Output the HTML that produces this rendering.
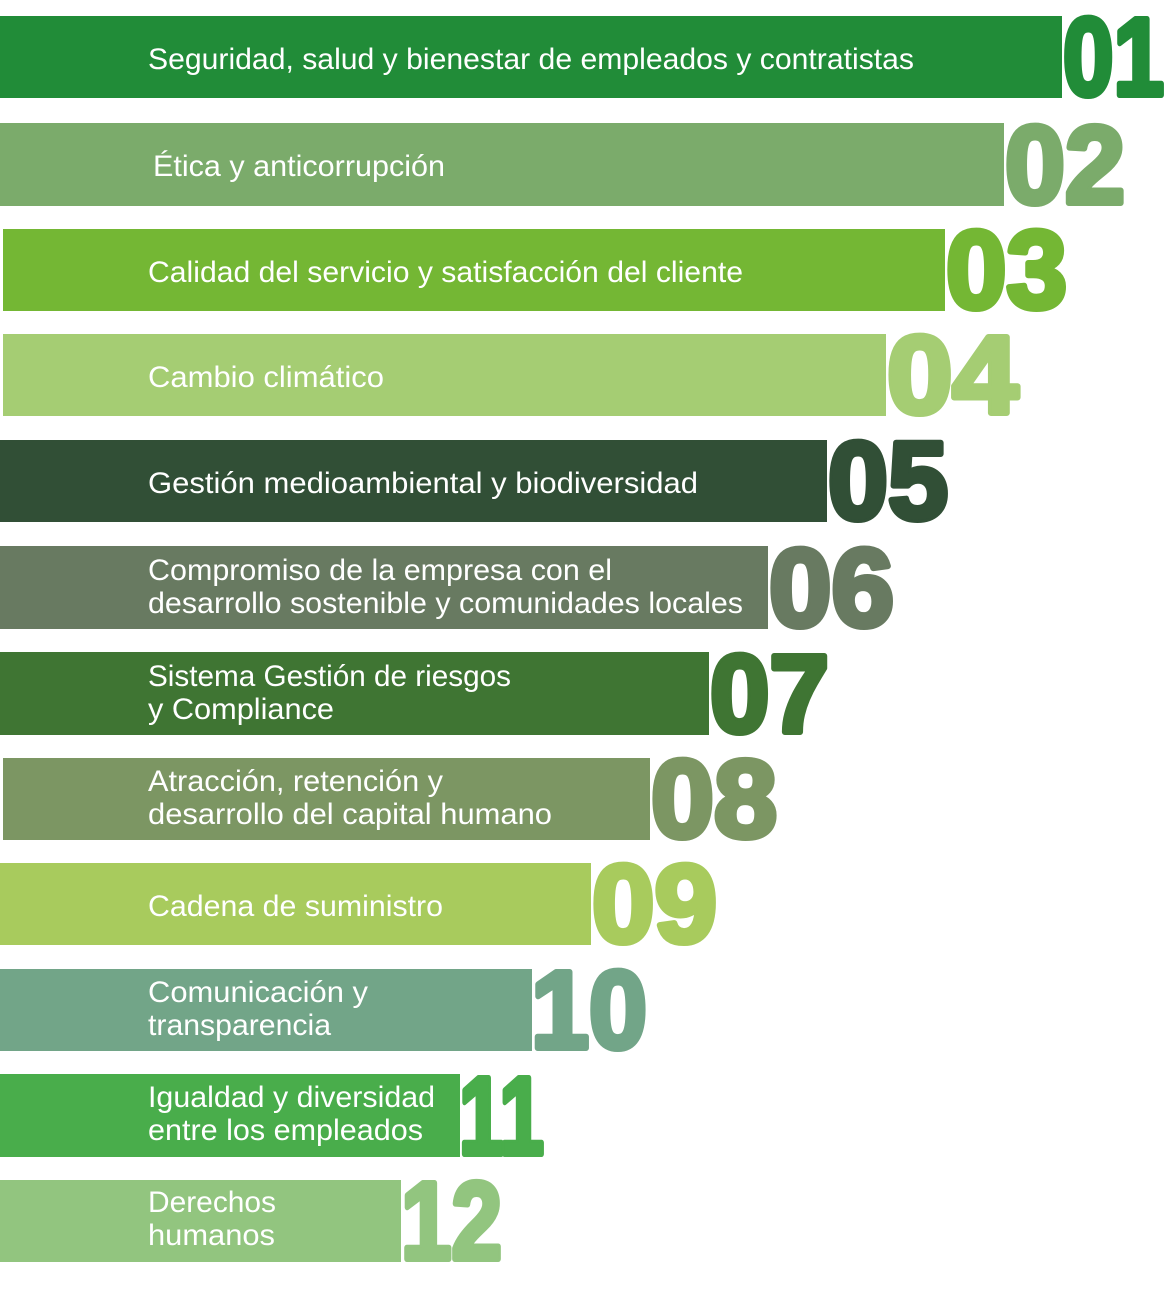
<!DOCTYPE html>
<html><head><meta charset="utf-8"><style>html,body{margin:0;padding:0;background:#fff;width:1172px;height:1297px;overflow:hidden}</style></head>
<body>
<svg width="1172" height="1297" xmlns="http://www.w3.org/2000/svg" font-family="Liberation Sans, sans-serif">
<style>.n{font-size:110px;font-weight:bold;stroke-width:6;stroke-linejoin:round;paint-order:stroke}</style>
<g fill="#fff" font-size="30" font-weight="300">
<rect x="0" y="16" width="1062" height="82" fill="#218c38"/>
<text class="n" x="1063" y="95" fill="#218c38" stroke="#218c38" textLength="101" lengthAdjust="spacingAndGlyphs">01</text>
<text x="148" y="69" textLength="766" lengthAdjust="spacingAndGlyphs">Seguridad, salud y bienestar de empleados y contratistas</text>

<rect x="0" y="123" width="1004" height="83" fill="#7bab6b"/>
<text class="n" x="1005" y="203" fill="#7bab6b" stroke="#7bab6b" textLength="120" lengthAdjust="spacingAndGlyphs">02</text>
<text x="153" y="176" textLength="292" lengthAdjust="spacingAndGlyphs">Ética y anticorrupción</text>

<rect x="3" y="229" width="942" height="82" fill="#74b734"/>
<text class="n" x="946" y="308" fill="#74b734" stroke="#74b734" textLength="121" lengthAdjust="spacingAndGlyphs">03</text>
<text x="148" y="282" textLength="595" lengthAdjust="spacingAndGlyphs">Calidad del servicio y satisfacción del cliente</text>

<rect x="3" y="334" width="883" height="82" fill="#a5cd73"/>
<text class="n" x="887" y="413" fill="#a5cd73" stroke="#a5cd73" textLength="131" lengthAdjust="spacingAndGlyphs">04</text>
<text x="148" y="387" textLength="236" lengthAdjust="spacingAndGlyphs">Cambio climático</text>

<rect x="0" y="440" width="827" height="82" fill="#314f36"/>
<text class="n" x="828" y="519" fill="#314f36" stroke="#314f36" textLength="120" lengthAdjust="spacingAndGlyphs">05</text>
<text x="148" y="493" textLength="550" lengthAdjust="spacingAndGlyphs">Gestión medioambiental y biodiversidad</text>

<rect x="0" y="546" width="768" height="83" fill="#687a61"/>
<text class="n" x="769" y="626" fill="#687a61" stroke="#687a61" textLength="125" lengthAdjust="spacingAndGlyphs">06</text>
<text x="148" y="580" textLength="464" lengthAdjust="spacingAndGlyphs">Compromiso de la empresa con el</text>
<text x="148" y="613" textLength="595" lengthAdjust="spacingAndGlyphs">desarrollo sostenible y comunidades locales</text>

<rect x="0" y="652" width="709" height="83" fill="#3f7533"/>
<text class="n" x="710" y="732" fill="#3f7533" stroke="#3f7533" textLength="119" lengthAdjust="spacingAndGlyphs">07</text>
<text x="148" y="686" textLength="363" lengthAdjust="spacingAndGlyphs">Sistema Gestión de riesgos</text>
<text x="148" y="719" textLength="186" lengthAdjust="spacingAndGlyphs">y Compliance</text>

<rect x="3" y="758" width="647" height="82" fill="#7c9663"/>
<text class="n" x="651" y="837" fill="#7c9663" stroke="#7c9663" textLength="126" lengthAdjust="spacingAndGlyphs">08</text>
<text x="148" y="791" textLength="295" lengthAdjust="spacingAndGlyphs">Atracción, retención y</text>
<text x="148" y="824" textLength="404" lengthAdjust="spacingAndGlyphs">desarrollo del capital humano</text>

<rect x="0" y="863" width="591" height="82" fill="#a8cb5d"/>
<text class="n" x="592" y="942" fill="#a8cb5d" stroke="#a8cb5d" textLength="125" lengthAdjust="spacingAndGlyphs">09</text>
<text x="148" y="916" textLength="295" lengthAdjust="spacingAndGlyphs">Cadena de suministro</text>

<rect x="0" y="969" width="532" height="82" fill="#72a588"/>
<text class="n" x="531" y="1048" fill="#72a588" stroke="#72a588" textLength="116" lengthAdjust="spacingAndGlyphs">10</text>
<text x="148" y="1002" textLength="220" lengthAdjust="spacingAndGlyphs">Comunicación y</text>
<text x="148" y="1035" textLength="183" lengthAdjust="spacingAndGlyphs">transparencia</text>

<rect x="0" y="1074" width="460" height="83" fill="#49ad4b"/>
<text class="n" x="459" y="1154" fill="#49ad4b" stroke="#49ad4b" textLength="85" lengthAdjust="spacingAndGlyphs">11</text>
<text x="148" y="1107" textLength="287" lengthAdjust="spacingAndGlyphs">Igualdad y diversidad</text>
<text x="148" y="1140" textLength="275" lengthAdjust="spacingAndGlyphs">entre los empleados</text>

<rect x="0" y="1180" width="401" height="82" fill="#92c57f"/>
<text class="n" x="401" y="1259" fill="#92c57f" stroke="#92c57f" textLength="101" lengthAdjust="spacingAndGlyphs">12</text>
<text x="148" y="1212" textLength="128" lengthAdjust="spacingAndGlyphs">Derechos</text>
<text x="148" y="1245" textLength="127" lengthAdjust="spacingAndGlyphs">humanos</text>
</g>
</svg>
</body></html>
